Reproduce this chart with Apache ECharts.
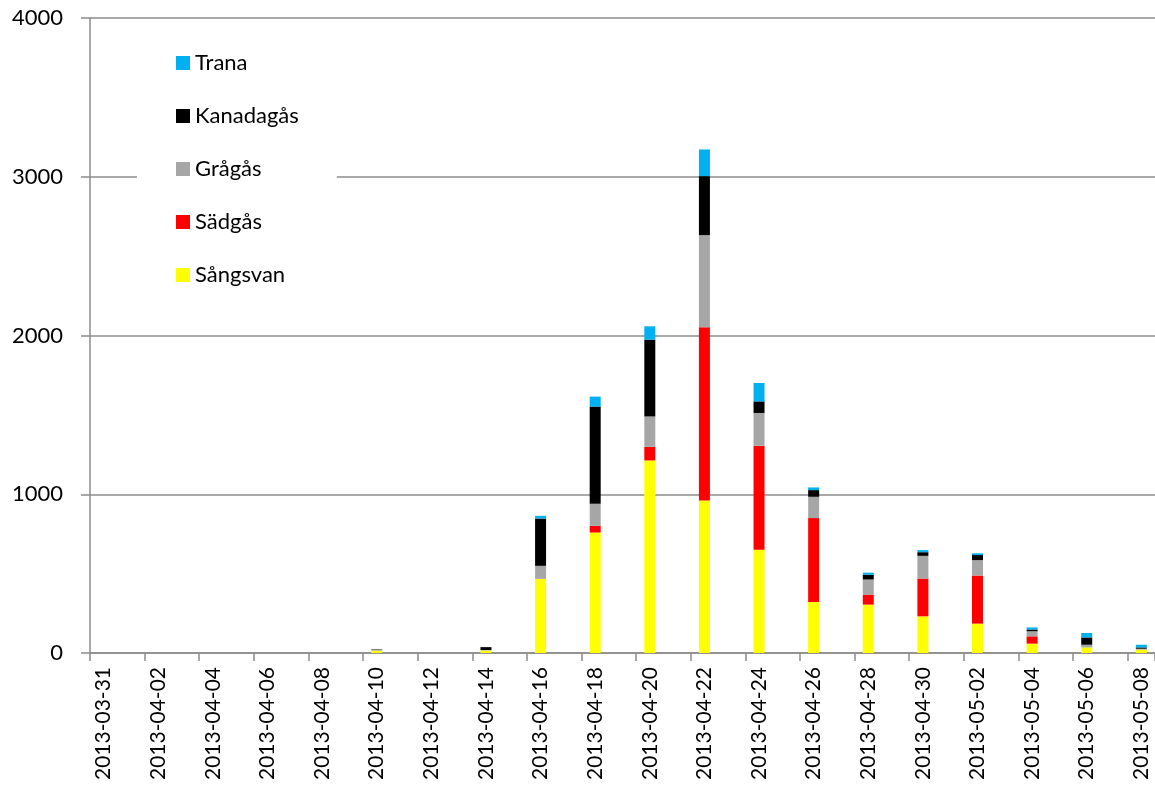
<!DOCTYPE html>
<html>
<head>
<meta charset="utf-8">
<script src="https://cdn.jsdelivr.net/npm/echarts@6/dist/echarts.min.js"></script>
<style>html,body{margin:0;padding:0;background:#fff;}#c{width:1155px;height:785px;}</style>
</head>
<body>
<div id="c"></div>
<script>
// All days on the axis (one category per day)
var categories = [
  '2013-03-31','2013-04-01','2013-04-02','2013-04-03','2013-04-04','2013-04-05','2013-04-06','2013-04-07',
  '2013-04-08','2013-04-09','2013-04-10','2013-04-11','2013-04-12','2013-04-13','2013-04-14','2013-04-15',
  '2013-04-16','2013-04-17','2013-04-18','2013-04-19','2013-04-20','2013-04-21','2013-04-22','2013-04-23',
  '2013-04-24','2013-04-25','2013-04-26','2013-04-27','2013-04-28','2013-04-29','2013-04-30','2013-05-01',
  '2013-05-02','2013-05-03','2013-05-04','2013-05-05','2013-05-06','2013-05-07','2013-05-08'
];
// Days with counts
var obsDates = ['2013-04-10','2013-04-14','2013-04-16','2013-04-18','2013-04-20','2013-04-22','2013-04-24',
  '2013-04-26','2013-04-28','2013-04-30','2013-05-02','2013-05-04','2013-05-06','2013-05-08'];
var sangsvan  = [15, 16, 467,  759, 1213,  961, 650, 321, 305, 231, 185, 59, 35, 21];
var sadgas    = [ 0,  0,   0,   42,   86, 1091, 656, 529,  63, 238, 303, 46,  0,  0];
var gragas    = [ 5,  3,  82,  139,  191,  580, 206, 134,  95, 143,  97, 32, 17,  6];
var kanadagas = [ 3, 18, 298,  612,  484,  372,  73,  42,  30,  23,  32, 11, 46,  8];
var trana     = [ 0,  0,  17,   63,   84,  168, 116,  17,  13,  13,  11, 13, 28, 17];
var seriesNames = ['Sångsvan','Sädgås','Grågås','Kanadagås','Trana'];
var seriesColors = ['#FFFF00','#FF0000','#A6A6A6','#000000','#00B0F0'];
var seriesValues = [sangsvan, sadgas, gragas, kanadagas, trana];
var legendOrder = ['Trana','Kanadagås','Grågås','Sädgås','Sångsvan'];

function expand(vals){
  return categories.map(function(d){
    var i = obsDates.indexOf(d);
    return i >= 0 ? vals[i] : null;
  });
}

var FONT = 'Lato';
var chart = echarts.init(document.getElementById('c'), null, {renderer:'canvas'});
chart.setOption({
  animation: false,
  backgroundColor: '#fff',
  textStyle: {fontFamily: FONT},
  grid: {left: 90, right: -2, top: 18, bottom: 132, containLabel: false},
  legend: {
    orient: 'vertical',
    left: 137, top: 32,
    padding: [20, 38, 20, 39],
    backgroundColor: '#fff',
    itemWidth: 14, itemHeight: 14, itemGap: 31,
    icon: 'rect',
    data: legendOrder,
    textStyle: {fontFamily: FONT, fontSize: 22, color: '#000', lineHeight: 19}
  },
  xAxis: {
    type: 'category',
    data: categories,
    boundaryGap: true,
    axisLine: {lineStyle: {color: '#8c8c8c', width: 1.5}},
    axisTick: {show: true, interval: 1, length: 8, lineStyle: {color: '#8c8c8c', width: 1.5}},
    axisLabel: {interval: 1, rotate: 90, margin: 14, fontFamily: FONT, fontSize: 21, color: '#000'},
    splitLine: {show: false}
  },
  yAxis: {
    type: 'value',
    min: 0, max: 4000, interval: 1000,
    axisLine: {show: true, lineStyle: {color: '#8c8c8c', width: 1.5}},
    axisTick: {show: true, length: 9, lineStyle: {color: '#8c8c8c', width: 1.5}},
    axisLabel: {margin: 27, fontFamily: FONT, fontSize: 22, color: '#000', formatter: function(v){ return String(v); }},
    splitLine: {show: true, lineStyle: {color: '#8c8c8c', width: 1.5}}
  },
  series: seriesNames.map(function(n, k){
    return {
      name: n, type: 'bar', stack: 'total', barWidth: 11,
      itemStyle: {color: seriesColors[k]},
      data: expand(seriesValues[k])
    };
  })
});
</script>
</body>
</html>
